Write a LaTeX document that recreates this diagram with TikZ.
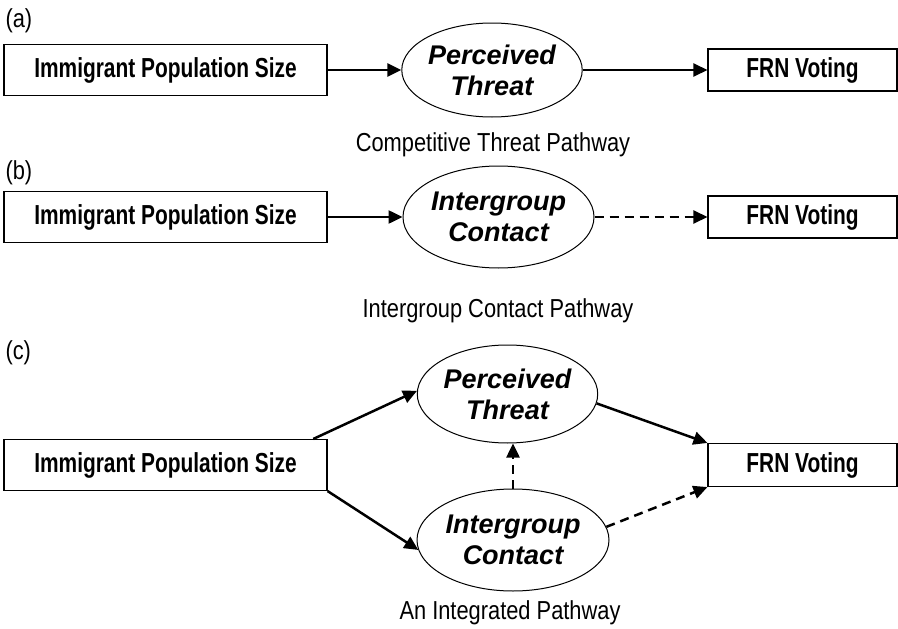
\documentclass[tikz,border=0pt]{standalone}
\usepackage{fontspec}
\setmainfont{Liberation Sans}
\newfontfamily\boxfont[FakeStretch=0.76]{Liberation Sans}
\newfontfamily\capfont[FakeStretch=0.84]{Liberation Sans}
\usetikzlibrary{shapes.geometric,arrows.meta}

\begin{document}
\begin{tikzpicture}[x=1pt,y=-1pt]
      \tikzset{Box/.style = {draw, line width = 1.1pt, inner sep = 0pt,
      minimum height = 51pt, font = \boxfont\bfseries\fontsize{27.5}{30}\selectfont},
      Oval/.style = {draw, ellipse, line width = 1pt, inner sep = 0pt, align = center,
      font = \bfseries\itshape\fontsize{27}{31}\selectfont},
      Caption/.style = {font = \capfont\fontsize{26}{30}\selectfont},
      Link/.style = {line width = 2.5pt, -{Triangle[length = 14pt, width = 13pt]}},
      DLink/.style = {Link, dash pattern = on 9pt off 6pt}}
      \useasboundingbox (0,0) rectangle (898,629);
      % (a)
      \node[Caption, anchor = west] (labA) at (2,21) {(a)};
      \node[Box, minimum width = 323pt] (ipsA) at (165.5,70) {Immigrant Population Size};
      \node[Oval, minimum width = 180pt, minimum height = 94pt] (ptA) at (492,70) {Perceived\\Threat};
      \node[Box, minimum width = 189pt, minimum height = 42pt] (frnA) at (802.5,70) {FRN Voting};
      \node[Caption] (capA) at (493,145) {Competitive Threat Pathway};
      \draw[Link] (ipsA) -- (ptA);
      \draw[Link] (ptA) -- (frnA);
      % (b)
      \node[Caption, anchor = west] (labB) at (2,173) {(b)};
      \node[Box, minimum width = 323pt] (ipsB) at (165.5,217) {Immigrant Population Size};
      \node[Oval, minimum width = 191pt, minimum height = 102pt] (icB) at (498.5,217) {Intergroup\\Contact};
      \node[Box, minimum width = 189pt, minimum height = 42pt] (frnB) at (802.5,217) {FRN Voting};
      \node[Caption] (capB) at (498,311) {Intergroup Contact Pathway};
      \draw[Link] (ipsB) -- (icB);
      \draw[DLink] (icB) -- (frnB);
      % (c)
      \node[Caption, anchor = west] (labC) at (2,353) {(c)};
      \node[Box, minimum width = 323pt] (ipsC) at (165.5,465) {Immigrant Population Size};
      \node[Oval, minimum width = 179pt, minimum height = 98pt] (ptC) at (507.5,394) {Perceived\\Threat};
      \node[Oval, minimum width = 192pt, minimum height = 102pt] (icC) at (513,540) {Intergroup\\Contact};
      \node[Box, minimum width = 189pt, minimum height = 43pt] (frnC) at (802.5,465) {FRN Voting};
      \node[Caption] (capC) at (510,613) {An Integrated Pathway};
      \draw[Link] (ipsC.10) -- (ptC.178);
      \draw[Link] (ipsC.south east) -- (icC.186);
      \draw[Link] (ptC.-6) -- (frnC.north west);
      \draw[DLink] (icC.8) -- (frnC.south west);
      \draw[DLink] (icC.north) -- (icC.north |- ptC.south);
\end{tikzpicture}
\end{document}
